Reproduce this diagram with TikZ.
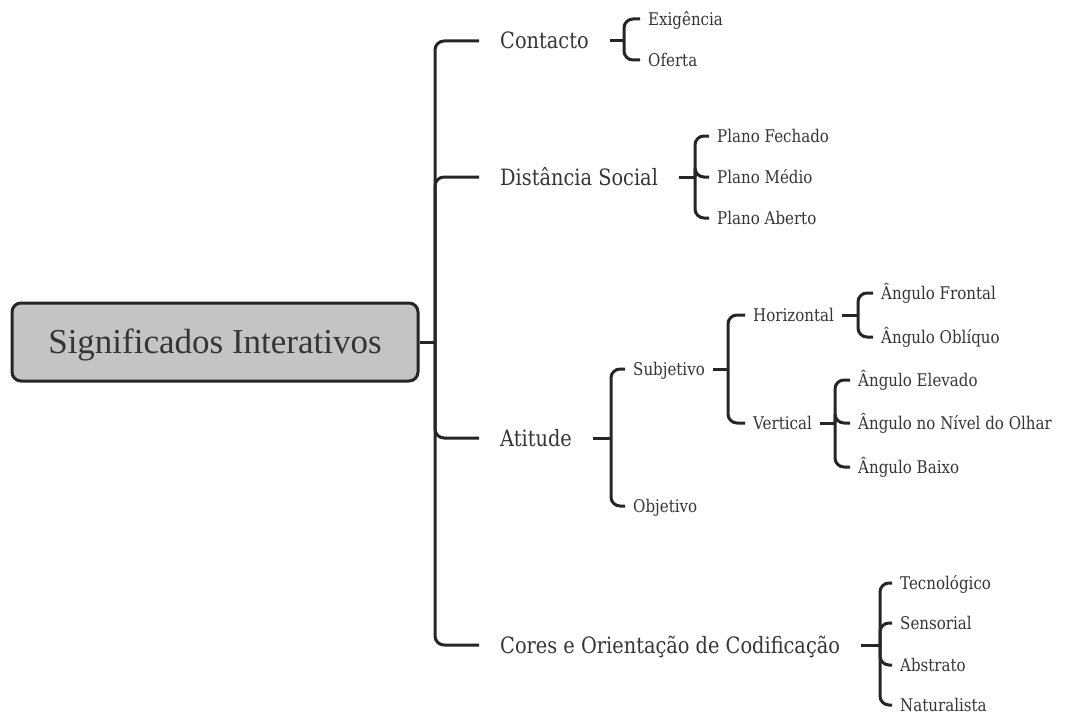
\documentclass[tikz,border=0pt]{standalone}
\usepackage{fontspec}
\newfontfamily\labfont[FakeStretch=0.86]{DejaVu Serif}
\newfontfamily\rootfont{Liberation Serif}
\definecolor{linec}{HTML}{262626}
\definecolor{textc}{HTML}{353535}
\definecolor{rootfill}{HTML}{C4C4C4}
\begin{document}
\begin{tikzpicture}[x=1pt,y=-1pt,
  conn/.style={line width=3pt, draw=linec, rounded corners=9pt},
  rootbox/.style={draw=linec, line width=3pt, fill=rootfill, rounded corners=9pt,
    minimum width=406pt, minimum height=78pt, inner sep=0pt,
    text height=23pt, text depth=0pt,
    font=\rootfont\fontsize{35}{40}\selectfont, text=textc},
  mainlab/.style={anchor=west, inner xsep=21pt, inner ysep=0pt,
    text height=16pt, text depth=0pt,
    font=\labfont\fontsize{22.5}{25}\selectfont, text=textc},
  sublab/.style={anchor=west, inner xsep=8pt, inner ysep=0pt,
    text height=12.6pt, text depth=0pt,
    font=\labfont\fontsize{17.5}{20}\selectfont, text=textc}]
\useasboundingbox (0,0) rectangle (1069,717);

% nodes
\node[rootbox] (root) at (215,342) {Significados Interativos};
\node[mainlab] (contacto) at (479,41) {Contacto};
\node[mainlab] (distancia) at (479,177) {Distância Social};
\node[mainlab] (atitude) at (479,438) {Atitude};
\node[mainlab] (cores) at (479,645) {Cores e Orientação de Codificação};
\node[sublab] (exig) at (640,19) {Exigência};
\node[sublab] (oferta) at (640,60) {Oferta};
\node[sublab] (fechado) at (709,136) {Plano Fechado};
\node[sublab] (medio) at (709,177) {Plano Médio};
\node[sublab] (aberto) at (709,218) {Plano Aberto};
\node[sublab] (subj) at (625,369) {Subjetivo};
\node[sublab] (obj) at (625,506) {Objetivo};
\node[sublab] (horiz) at (745,315) {Horizontal};
\node[sublab] (vert) at (745,423) {Vertical};
\node[sublab] (frontal) at (873,293) {Ângulo Frontal};
\node[sublab] (obliquo) at (873,337) {Ângulo Oblíquo};
\node[sublab] (elevado) at (850,380) {Ângulo Elevado};
\node[sublab] (nivel) at (850,423) {Ângulo no Nível do Olhar};
\node[sublab] (baixo) at (850,467) {Ângulo Baixo};
\node[sublab] (tecno) at (892,583) {Tecnológico};
\node[sublab] (sensorial) at (892,623) {Sensorial};
\node[sublab] (abstrato) at (892,665) {Abstrato};
\node[sublab] (natural) at (892,705) {Naturalista};

% junctions
\coordinate (jR) at (435,342);
\coordinate (jC) at (624,41);
\coordinate (jD) at (695,177);
\coordinate (jA) at (611,438);
\coordinate (jS) at (728,369);
\coordinate (jH) at (858,315);
\coordinate (jV) at (835,423);
\coordinate (jK) at (880,645);

% connectors
\draw[conn] (root.east) -- (jR);
\foreach \c in {contacto,distancia,atitude,cores} \draw[conn] (jR) |- (\c.west);
\draw[conn] (contacto.east) -- (jC);
\foreach \c in {exig,oferta} \draw[conn] (jC) |- (\c.west);
\draw[conn] (distancia.east) -- (jD);
\foreach \c in {fechado,medio,aberto} \draw[conn] (jD) |- (\c.west);
\draw[conn] (atitude.east) -- (jA);
\foreach \c in {subj,obj} \draw[conn] (jA) |- (\c.west);
\draw[conn] (subj.east) -- (jS);
\foreach \c in {horiz,vert} \draw[conn] (jS) |- (\c.west);
\draw[conn] (horiz.east) -- (jH);
\foreach \c in {frontal,obliquo} \draw[conn] (jH) |- (\c.west);
\draw[conn] (vert.east) -- (jV);
\foreach \c in {elevado,nivel,baixo} \draw[conn] (jV) |- (\c.west);
\draw[conn] (cores.east) -- (jK);
\foreach \c in {tecno,sensorial,abstrato,natural} \draw[conn] (jK) |- (\c.west);
\end{tikzpicture}
\end{document}
